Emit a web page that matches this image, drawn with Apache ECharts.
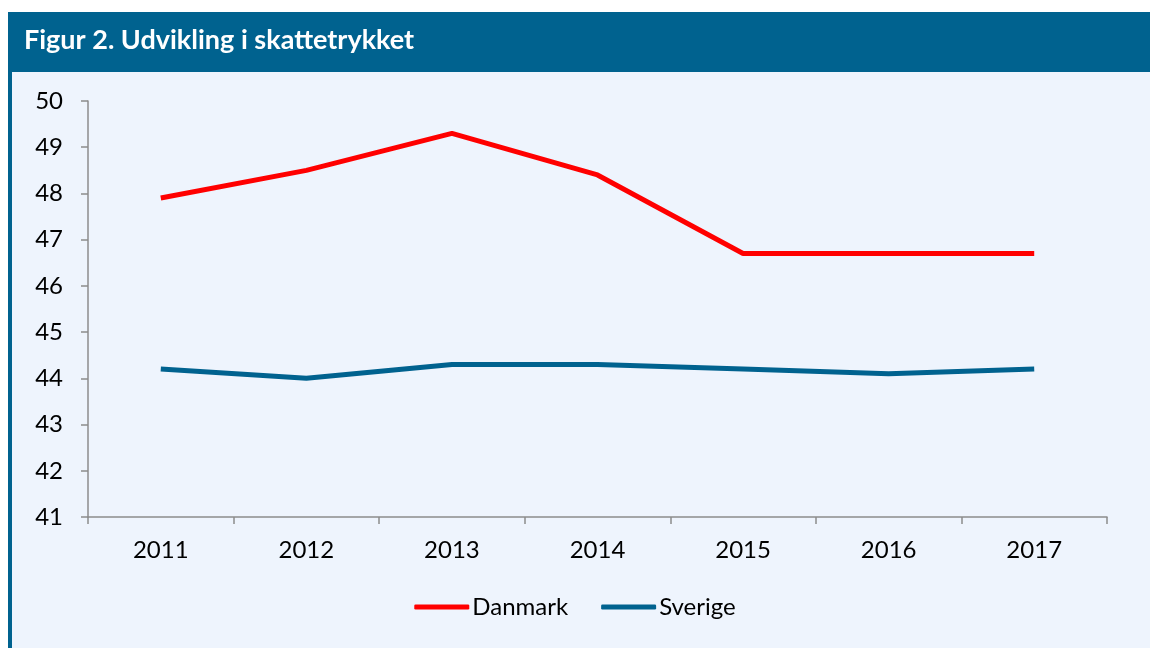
<!DOCTYPE html>
<html>
<head>
<meta charset="utf-8">
<script src="https://cdn.jsdelivr.net/npm/echarts@6/dist/echarts.min.js"></script>
<style>
  html, body { margin: 0; padding: 0; background: #ffffff; }
  #chart { width: 1150px; height: 648px; }
</style>
</head>
<body>
<div id="chart"></div>
<script>
  // data
  var years = ['2011', '2012', '2013', '2014', '2015', '2016', '2017'];
  var danmark = [47.9, 48.5, 49.3, 48.4, 46.7, 46.7, 46.7];
  var sverige = [44.2, 44.0, 44.3, 44.3, 44.2, 44.1, 44.2];

  var font = 'Lato, "Open Sans", sans-serif';
  var chart = echarts.init(document.getElementById('chart'));

  var option = {
    backgroundColor: '#ffffff',
    animation: false,
    textStyle: { fontFamily: font },
    graphic: [
      // light panel
      { type: 'rect', silent: true, z: -10, shape: { x: 8, y: 12, width: 1142, height: 636 }, style: { fill: '#eef4fd' } },
      // left border
      { type: 'rect', silent: true, z: -9, shape: { x: 8, y: 12, width: 4, height: 636 }, style: { fill: '#00628f' } },
      // header band
      { type: 'rect', silent: true, z: -9, shape: { x: 8, y: 12, width: 1142, height: 60 }, style: { fill: '#00628f' } },
      {
        type: 'text', left: 24, top: 27,
        style: { text: 'Figur 2. Udvikling i skattetrykket', fill: '#ffffff', font: 'bold 27px ' + font }
      }
    ],
    grid: { left: 88, right: 43, top: 101, bottom: 131 },
    legend: {
      bottom: 24,
      left: 'center',
      itemWidth: 55,
      itemHeight: 5,
      itemGap: 33,
      icon: 'roundRect',
      textStyle: { fontSize: 24, color: '#000000', fontFamily: font, padding: [0, 0, 0, -2] },
      data: ['Danmark', 'Sverige']
    },
    xAxis: {
      type: 'category',
      data: years,
      boundaryGap: true,
      axisLine: { lineStyle: { color: '#8c8c8c', width: 1.5 } },
      axisTick: { show: true, length: 7, lineStyle: { color: '#8c8c8c', width: 1.5 } },
      axisLabel: { color: '#000000', fontSize: 24, margin: 21, fontFamily: font }
    },
    yAxis: {
      type: 'value',
      min: 41,
      max: 50,
      interval: 1,
      splitLine: { show: false },
      axisLine: { show: true, lineStyle: { color: '#8c8c8c', width: 1.5 } },
      axisTick: { show: true, length: 7, lineStyle: { color: '#8c8c8c', width: 1.5 } },
      axisLabel: { color: '#000000', fontSize: 24, margin: 25, fontFamily: font }
    },
    series: [
      {
        name: 'Danmark',
        type: 'line',
        data: danmark,
        symbol: 'none',
        color: '#ff0000',
        lineStyle: { width: 5, color: '#ff0000' }
      },
      {
        name: 'Sverige',
        type: 'line',
        data: sverige,
        symbol: 'none',
        color: '#00628f',
        lineStyle: { width: 5, color: '#00628f' }
      }
    ]
  };
  chart.setOption(option);
</script>
</body>
</html>
